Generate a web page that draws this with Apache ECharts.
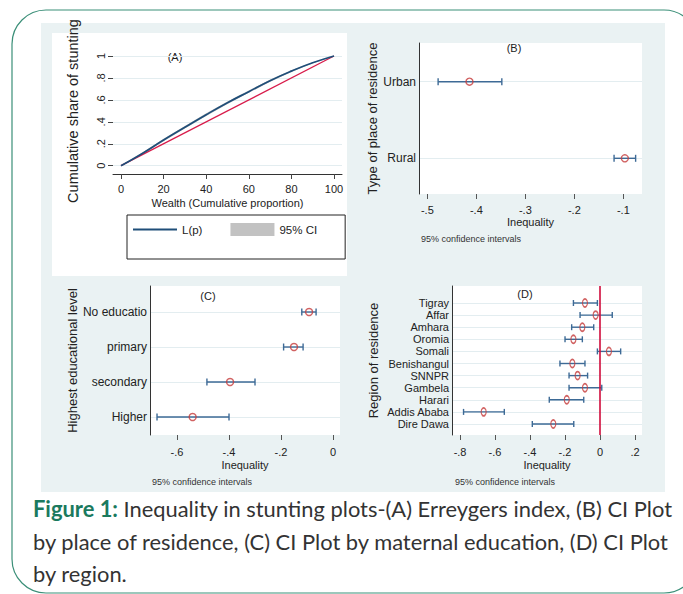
<!DOCTYPE html>
<html><head><meta charset="utf-8">
<script src="https://cdn.jsdelivr.net/npm/echarts@6/dist/echarts.min.js"></script>
<style>html,body{margin:0;padding:0;background:#fff;}#c{width:683px;height:594px;}</style>
</head><body><div id="c"></div>
<script>
// ---------- Panel A: concentration curve ----------
const aWealth = [0, 10, 20, 30, 40, 50, 60, 70, 80, 90, 100];
const aLorenz = [0, 0.112, 0.234, 0.350, 0.465, 0.574, 0.675, 0.775, 0.862, 0.938, 1];
const aLower  = [0, 0.103, 0.223, 0.338, 0.453, 0.562, 0.664, 0.765, 0.854, 0.933, 1];
const aUpper  = [0, 0.121, 0.245, 0.362, 0.477, 0.586, 0.686, 0.785, 0.870, 0.943, 1];
const aEqualityX = [0, 100];
const aEqualityY = [0, 1];
const aXTicks = [0, 20, 40, 60, 80, 100];
const aYTicks = [0, 0.2, 0.4, 0.6, 0.8, 1];

// ---------- Panel B: place of residence ----------
const bCategories = ['Urban', 'Rural'];
const bEstimate = [-0.414, -0.097];
const bLower    = [-0.478, -0.119];
const bUpper    = [-0.348, -0.075];
const bTicks = [-0.5, -0.4, -0.3, -0.2, -0.1];

// ---------- Panel C: maternal education ----------
const cCategories = ['No educatio', 'primary', 'secondary', 'Higher'];
const cEstimate = [-0.092, -0.150, -0.396, -0.540];
const cLower    = [-0.120, -0.190, -0.485, -0.677];
const cUpper    = [-0.065, -0.115, -0.300, -0.400];
const cTicks = [-0.6, -0.4, -0.2, 0];

// ---------- Panel D: region ----------
const dCategories = ['Tigray', 'Affar', 'Amhara', 'Oromia', 'Somali', 'Benishangul', 'SNNPR', 'Gambela', 'Harari', 'Addis Ababa', 'Dire Dawa'];
const dEstimate = [-0.086, -0.025, -0.101, -0.152, 0.051, -0.158, -0.128, -0.086, -0.190, -0.665, -0.267];
const dLower    = [-0.152, -0.114, -0.162, -0.200, -0.015, -0.229, -0.177, -0.177, -0.290, -0.780, -0.387];
const dUpper    = [-0.015, 0.070, -0.036, -0.101, 0.118, -0.086, -0.071, 0.010, -0.093, -0.547, -0.150];
const dTicks = [-0.8, -0.6, -0.4, -0.2, 0, 0.2];

const FONT = 'Liberation Sans, Arial, sans-serif';
const TXT = '#222';
const GRIDC = '#e3edf0';
const CI_BLUE = '#3d6a96';
const MARK_RED = '#c63b3b';

function fmt(v) {
  const s = String(+(+v).toFixed(2));
  return s.replace(/^(-?)0\./, '$1.');
}

function ciSeries(idx, lower, upper, cap) {
  return {
    type: 'custom', xAxisIndex: idx, yAxisIndex: idx, z: 2, silent: true,
    data: lower.map((l, i) => [l, upper[i], i]),
    encode: { x: [0, 1], y: 2 },
    renderItem: (params, api) => {
      const y = api.value(2);
      const a = api.coord([api.value(0), y]);
      const b = api.coord([api.value(1), y]);
      const st = { stroke: CI_BLUE, lineWidth: 1.4 };
      return { type: 'group', children: [
        { type: 'line', shape: { x1: a[0], y1: a[1], x2: b[0], y2: b[1] }, style: st },
        { type: 'line', shape: { x1: a[0], y1: a[1] - cap, x2: a[0], y2: a[1] + cap }, style: st },
        { type: 'line', shape: { x1: b[0], y1: b[1] - cap, x2: b[0], y2: b[1] + cap }, style: st }
      ]};
    }
  };
}
function pointSeries(idx, est, size) {
  return {
    type: 'scatter', xAxisIndex: idx, yAxisIndex: idx, z: 3, silent: true,
    data: est.map((v, i) => [v, i]),
    symbol: 'circle', symbolSize: size,
    itemStyle: { color: 'rgba(255,255,255,0)', borderColor: MARK_RED, borderWidth: 1.4 }
  };
}
function catYAxis(idx, cats, min, max, name, gap, fs, lh) {
  const vals = cats.map((_, i) => i);
  return {
    type: 'value', gridIndex: idx, inverse: true, min: min, max: max,
    name: name, nameLocation: 'middle', nameGap: gap, nameRotate: 90,
    nameTextStyle: { fontFamily: FONT, fontSize: 13, color: TXT },
    axisLine: { show: true, onZero: false, lineStyle: { color: '#333', width: 1 } },
    axisTick: { show: false, customValues: vals },
    axisLabel: { customValues: vals, formatter: v => cats[Math.round(v)], fontFamily: FONT, fontSize: fs, lineHeight: lh, color: TXT, margin: 3 },
    splitLine: { show: true, lineStyle: { color: GRIDC, width: 1 } }
  };
}
function ineqXAxis(idx, ticks, min, max, labelMargin, nameGap) {
  return {
    type: 'value', gridIndex: idx, min: min, max: max,
    name: 'Inequality', nameLocation: 'middle', nameGap: nameGap,
    nameTextStyle: { fontFamily: FONT, fontSize: 11, color: TXT },
    axisLine: { show: false, onZero: false },
    axisTick: { show: true, length: 5, customValues: ticks, lineStyle: { color: '#555' } },
    axisLabel: { customValues: ticks, formatter: fmt, fontFamily: FONT, fontSize: 11, color: TXT, margin: labelMargin },
    splitLine: { show: false }
  };
}

const chart = echarts.init(document.getElementById('c'), null, { renderer: 'svg' });

// caption font size fitted to the reference line width
const ctx = document.createElement('canvas').getContext('2d');
const CAP_FONT = 'Lato, Open Sans, sans-serif';
ctx.font = 'bold 20px ' + CAP_FONT;
let w1 = ctx.measureText('Figure 1: ').width;
ctx.font = '20px ' + CAP_FONT;
w1 += ctx.measureText('Inequality in stunting plots-(A) Erreygers index, (B) CI Plot').width;
const capSize = Math.max(14, Math.min(22, 20 * 640 / w1));

const option = {
  animation: false,
  textStyle: { fontFamily: FONT },
  graphic: [
    { type: 'rect', z: -20, shape: { x: 12, y: 10, width: 686, height: 583, r: 34 }, style: { fill: '#fff', stroke: '#3b8f78', lineWidth: 1.2 } },
    { type: 'rect', z: -15, shape: { x: 41, y: 23, width: 624, height: 469 }, style: { fill: '#eaf2f3' } },
    { type: 'rect', z: -10, shape: { x: 52, y: 33, width: 295, height: 243 }, style: { fill: '#fff' } },
    { type: 'text', x: 175, y: 57, style: { text: '(A)', fontFamily: FONT, fontSize: 11, fill: TXT, textAlign: 'center', textVerticalAlign: 'middle' } },
    { type: 'text', x: 514, y: 48, style: { text: '(B)', fontFamily: FONT, fontSize: 11, fill: TXT, textAlign: 'center', textVerticalAlign: 'middle' } },
    { type: 'text', x: 208, y: 296, style: { text: '(C)', fontFamily: FONT, fontSize: 11, fill: TXT, textAlign: 'center', textVerticalAlign: 'middle' } },
    { type: 'text', x: 525, y: 294, style: { text: '(D)', fontFamily: FONT, fontSize: 11, fill: TXT, textAlign: 'center', textVerticalAlign: 'middle' } },
    { type: 'text', x: 421, y: 239, style: { text: '95% confidence intervals', fontFamily: FONT, fontSize: 9, fill: '#333', textVerticalAlign: 'middle' } },
    { type: 'text', x: 152, y: 482, style: { text: '95% confidence intervals', fontFamily: FONT, fontSize: 9, fill: '#333', textVerticalAlign: 'middle' } },
    { type: 'text', x: 455, y: 482, style: { text: '95% confidence intervals', fontFamily: FONT, fontSize: 9, fill: '#333', textVerticalAlign: 'middle' } },
    { type: 'text', x: 33, y: 508, style: {
        text: '{g|Figure 1:} Inequality in stunting plots-(A) Erreygers index, (B) CI Plot',
        fontFamily: CAP_FONT, fontSize: capSize, fill: '#333', textVerticalAlign: 'middle',
        rich: { g: { fontFamily: CAP_FONT, fontSize: capSize, fontWeight: 'bold', fill: '#1b7a5e' } } } },
    { type: 'text', x: 33, y: 541, style: { text: 'by place of residence, (C) CI Plot by maternal education, (D) CI Plot', fontFamily: CAP_FONT, fontSize: capSize, fill: '#333', textVerticalAlign: 'middle' } },
    { type: 'text', x: 33, y: 573, style: { text: 'by region.', fontFamily: CAP_FONT, fontSize: capSize, fill: '#333', textVerticalAlign: 'middle' } }
  ],
  legend: {
    left: 127, top: 215, orient: 'horizontal', selectedMode: false,
    data: [
      { name: 'L(p)', itemStyle: { color: 'rgba(0,0,0,0)', borderWidth: 0, opacity: 0 } },
      { name: '95% CI', icon: 'rect', itemStyle: { color: '#c2c2c2' } }
    ],
    itemWidth: 44, itemHeight: 13, itemGap: 28,
    padding: [8, 28, 23, 5],
    borderColor: '#222', borderWidth: 1, backgroundColor: '#fff',
    textStyle: { fontFamily: FONT, fontSize: 11.5, color: TXT }
  },
  grid: [
    { left: 113, top: 48, width: 229, height: 126 },
    { left: 419, top: 43, width: 223, height: 151, show: true, backgroundColor: '#fff', borderWidth: 0 },
    { left: 150, top: 286, width: 190, height: 149, show: true, backgroundColor: '#fff', borderWidth: 0 },
    { left: 452, top: 286, width: 190, height: 149, show: true, backgroundColor: '#fff', borderWidth: 0 }
  ],
  xAxis: [
    {
      type: 'value', gridIndex: 0, min: -3.76, max: 103.76,
      name: 'Wealth (Cumulative proportion)', nameLocation: 'middle', nameGap: 23,
      nameTextStyle: { fontFamily: FONT, fontSize: 11, color: TXT },
      axisLine: { show: true, onZero: false, lineStyle: { color: '#333', width: 1 } },
      axisTick: { show: true, length: 5, customValues: aXTicks, lineStyle: { color: '#444' } },
      axisLabel: { customValues: aXTicks, formatter: fmt, fontFamily: FONT, fontSize: 11, color: TXT, margin: 9 },
      splitLine: { show: false }
    },
    ineqXAxis(1, bTicks, -0.517, -0.062, 10, 22),
    ineqXAxis(2, cTicks, -0.704, 0.027, 11, 24),
    ineqXAxis(3, dTicks, -0.846, 0.24, 11, 24)
  ],
  yAxis: [
    {
      type: 'value', gridIndex: 0, min: -0.0757, max: 1.0729,
      name: 'Cumulative share of stunting', nameLocation: 'middle', nameGap: 33, nameRotate: 90,
      nameTextStyle: { fontFamily: FONT, fontSize: 14.5, color: TXT },
      axisLine: { show: false, onZero: false },
      axisTick: { show: true, length: 5, customValues: aYTicks, lineStyle: { color: '#444' } },
      axisLabel: { customValues: aYTicks, formatter: fmt, rotate: 90, fontFamily: FONT, fontSize: 11, color: TXT, margin: 7 },
      splitLine: { show: true, lineStyle: { color: GRIDC, width: 1 } }
    },
    catYAxis(1, bCategories, -0.505, 1.466, 'Type of place of residence', 40, 12, 14),
    catYAxis(2, cCategories, -0.743, 3.514, 'Highest educational level', 71, 12, 14),
    catYAxis(3, dCategories, -1.405, 10.909, 'Region of residence', 72, 11, 11)
  ],
  series: [
    { type: 'custom', name: '95% CI', xAxisIndex: 0, yAxisIndex: 0, z: 1, silent: true,
      data: aWealth.map((p, i) => [p, aLower[i], aUpper[i]]),
      encode: { x: 0, y: [1, 2] },
      renderItem: (params, api) => {
        if (params.dataIndex !== 0) return null;
        const lo = aWealth.map((p, i) => api.coord([p, aLower[i]]));
        const hi = aWealth.map((p, i) => api.coord([p, aUpper[i]])).reverse();
        return { type: 'polygon', shape: { points: lo.concat(hi) }, style: { fill: '#bcbcbc' } };
      } },
    { type: 'line', name: 'equality', xAxisIndex: 0, yAxisIndex: 0, symbol: 'none', silent: true, z: 3,
      data: aEqualityX.map((p, i) => [p, aEqualityY[i]]), lineStyle: { color: '#d81b4a', width: 1.3 } },
    { type: 'line', name: 'L(p)', xAxisIndex: 0, yAxisIndex: 0, symbol: 'none', smooth: true, silent: true, z: 4,
      color: '#1f4e79', data: aWealth.map((p, i) => [p, aLorenz[i]]), lineStyle: { color: '#1f4e79', width: 1.7 } },

    ciSeries(1, bLower, bUpper, 3.5),
    pointSeries(1, bEstimate, 7),
    ciSeries(2, cLower, cUpper, 3.5),
    pointSeries(2, cEstimate, 7),
    ciSeries(3, dLower, dUpper, 3),
    Object.assign(pointSeries(3, dEstimate, [5, 8]), {
      markLine: { silent: true, symbol: 'none', label: { show: false },
        lineStyle: { color: '#d00c3c', width: 1.6, type: 'solid' }, data: [{ xAxis: 0 }] }
    })
  ]
};
chart.setOption(option);
</script>
</body></html>
